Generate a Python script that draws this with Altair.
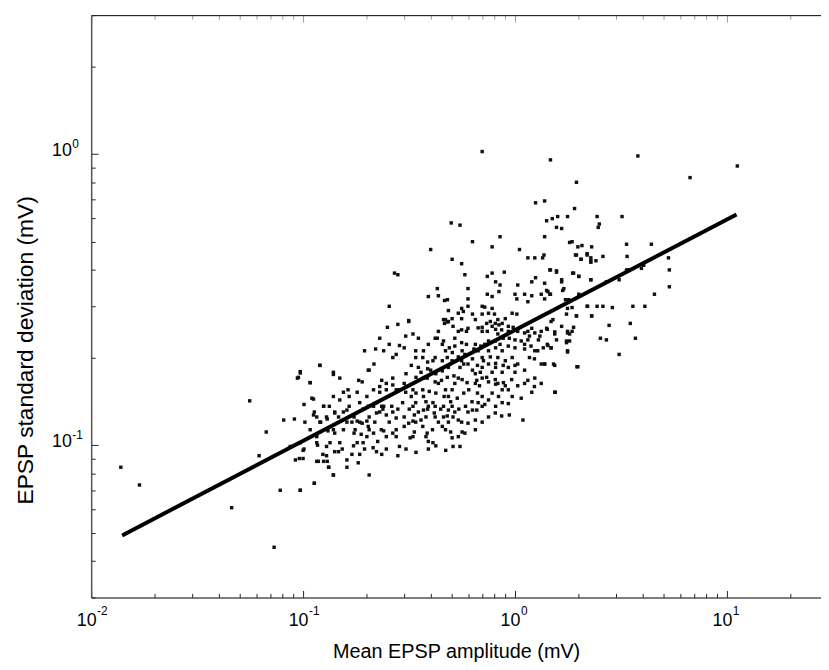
import altair as alt
import pandas as pd

# Mean EPSP amplitude (mV) and EPSP standard deviation (mV)
amp = [
    0.0138, 0.0169, 0.046, 0.056, 0.067, 0.062, 0.073, 0.078, 0.081, 0.091, 0.087, 0.092, 0.097, 0.095,
    0.097, 0.10, 0.10, 0.108, 0.112, 0.112, 0.113, 0.117, 0.118, 0.120, 0.121, 0.124, 0.125, 0.130,
    0.130, 0.132, 0.131, 0.139, 0.139, 0.141, 0.141, 0.141,
    0.505, 0.56, 1.15, 1.24, 1.35, 1.37, 1.93, 2.05, 2.19, 2.28, 0.28, 0.58, 0.74, 0.78, 0.89, 0.81,
    0.85, 1.03, 1.20, 1.25, 1.46, 1.57, 1.89, 2.0, 2.28, 0.43, 0.39, 0.435, 0.465, 0.48, 0.60, 0.60,
    0.60, 0.56, 0.57, 0.54, 0.485, 0.74, 0.78, 0.70, 0.72, 0.78, 0.75, 0.70, 0.65, 0.84, 1.0, 1.02,
    1.11, 1.15, 1.20, 1.33, 1.41, 1.47, 1.66, 1.70, 1.79, 2.0, 2.19, 2.30, 1.95, 1.75, 0.255, 0.28,
    0.25, 0.315, 0.47, 0.485, 0.505, 0.465, 0.56, 0.63, 0.80, 0.83, 0.87, 0.90, 0.97, 1.02, 0.93, 0.81,
    0.78, 0.74, 0.70, 0.83, 0.88, 0.94, 1.0, 1.07, 1.15, 1.20, 1.24, 1.31, 1.33, 1.42, 1.48, 1.66,
    1.54, 1.77, 1.81, 1.75, 1.48, 1.42, 1.29, 1.15, 1.11, 1.24, 1.33, 1.38, 1.54, 1.77, 1.96, 1.54,
    1.20, 1.07, 1.09, 0.94, 1.03, 0.93, 0.87, 0.90, 0.83, 0.81, 0.75, 0.70, 0.66, 0.65, 0.68, 0.75,
    0.72, 0.67, 0.66, 0.63, 0.60, 0.60, 0.56, 0.54, 0.51, 0.52, 0.505, 0.485, 0.46, 0.42, 0.41, 0.39,
    0.38, 0.37, 0.34, 0.33, 0.35, 0.37, 0.38, 0.36, 0.34, 0.33, 0.315, 0.30, 0.275, 0.265, 0.247, 0.24,
    0.235, 0.23, 0.222, 0.215, 0.205, 0.20, 0.19, 0.185, 0.18, 0.174, 0.17, 0.161, 0.155, 0.147, 0.141,
    0.133, 0.125, 0.12, 0.113, 0.11, 0.101, 0.102, 0.097, 0.101, 0.096, 0.116, 0.125, 0.132, 0.139,
    0.147, 0.161, 0.17, 0.185, 0.195, 0.20, 0.205, 0.215, 0.225, 0.222, 0.235, 0.24, 0.255, 0.265,
    0.275, 0.285, 0.28, 0.32, 0.33, 0.38, 0.385, 0.39, 0.41, 0.39, 0.505, 0.51, 0.55, 0.205, 0.097,
    0.113, 0.108, 0.097, 0.094, 0.12, 0.139, 0.149, 0.155, 0.163, 0.165, 0.183, 0.19, 0.195, 0.205,
    0.216, 0.203, 0.22, 0.23, 0.24, 0.255, 0.265, 0.275, 0.285, 0.30, 0.305, 0.315,
    0.34, 0.35, 0.37, 0.385, 0.40, 0.41, 0.42, 0.435, 0.45, 0.47, 0.485, 0.505, 0.52, 0.54, 0.55, 0.56,
    0.58, 0.60, 0.63, 0.505, 0.485, 0.47, 0.46, 0.435, 0.42, 0.39, 0.37, 0.35, 0.33, 0.52, 0.54, 0.56,
    0.60, 0.65, 0.67, 0.70, 0.72, 0.75, 0.81, 0.83, 0.87, 0.90, 0.93, 0.97, 0.81, 0.75, 0.70, 0.78,
    0.87, 1.0, 1.03, 1.11, 1.15, 1.24, 1.33, 0.97, 0.87, 0.81, 0.75, 0.70, 0.65, 0.58, 0.54, 0.47,
    0.435, 0.42, 0.46, 0.485, 0.33, 0.305, 0.30, 0.275, 0.265, 0.247, 0.235, 0.23, 0.215, 0.20, 0.185,
    0.18, 0.165, 0.149, 0.139, 0.129, 0.116, 0.108, 0.139, 0.155, 0.174, 0.18, 0.149, 0.129, 0.116,
    1.47, 3.8, 11.2, 6.7, 1.95, 1.91, 1.38, 1.41, 1.59, 1.77, 2.44, 2.5, 2.47, 3.2, 1.57, 1.66, 1.38,
    1.81, 1.86, 1.98, 2.07, 2.30, 2.19, 2.28, 2.28, 2.41, 2.6, 1.95, 2.05, 3.36, 4.4, 3.38, 5.3, 5.35,
    5.35, 4.55, 4.05, 3.95, 3.36, 3.45, 1.47, 1.57, 1.87, 2.0, 2.28, 3.1, 2.7, 1.66, 1.38, 1.43, 1.46,
    1.68, 1.73, 1.38, 2.2, 2.44, 2.6, 2.88, 3.6, 4.1, 1.77, 1.86, 1.95, 2.3, 1.51, 1.41, 1.54, 1.77,
    1.81, 1.86, 1.89, 2.78, 3.5, 1.57, 1.75, 1.43, 1.48, 1.77, 2.53, 2.7, 3.7, 3.1, 1.38, 1.52, 1.98,
    1.55,
    0.70, 0.50, 0.55, 0.40, 0.63, 0.85, 0.78, 1.05, 1.25, 1.5, 0.27,
    # dense core, second pass
    0.46, 0.48, 0.51, 0.56, 0.59, 0.67, 0.70, 0.735, 0.765, 0.807, 0.84, 0.865, 0.93, 0.98, 1.03, 1.11, 1.17,
    0.43, 0.454, 0.49, 0.52, 0.563, 0.59, 0.64, 0.69, 0.75, 0.807, 0.85, 0.93, 1.0, 1.11, 1.19, 1.28, 1.36,
    0.34, 0.367, 0.387, 0.42, 0.454, 0.479, 0.506, 0.54, 0.573, 0.63, 0.665, 0.71, 0.765, 0.81, 0.88, 1.0,
    1.17, 1.235,
    0.306, 0.324, 0.341, 0.36, 0.387, 0.423, 0.454, 0.479, 0.515, 0.563, 0.594, 0.65, 0.686, 0.735, 0.807,
    0.882, 0.964, 1.11, 1.235,
    0.23, 0.247, 0.265, 0.285, 0.306, 0.324, 0.341, 0.367, 0.394, 0.423, 0.463, 0.497, 0.534, 0.573, 0.605,
    0.665, 0.70, 0.78, 0.836, 0.93,
    0.192, 0.203, 0.222, 0.238, 0.262, 0.28, 0.295, 0.317, 0.335, 0.387, 0.416, 0.446, 0.479, 0.543, 0.584,
    0.627, 0.70, 0.807, 0.865,
    0.161, 0.176, 0.188, 0.203, 0.218, 0.234, 0.247, 0.275, 0.30, 0.335, 0.367, 0.408, 0.454, 0.497, 0.563,
    0.65,
    0.116, 0.134, 0.153, 0.173, 0.192, 0.214, 0.247, 0.306, 0.341, 0.423, 0.471, 0.161, 0.182, 0.129,
]
sd = [
    0.084, 0.073, 0.061, 0.142, 0.111, 0.092, 0.0446, 0.070, 0.122, 0.123, 0.099, 0.089, 0.070, 0.171,
    0.179, 0.096, 0.090, 0.164, 0.144, 0.127, 0.074, 0.10, 0.088, 0.188, 0.12, 0.093, 0.136, 0.123,
    0.088, 0.084, 0.112, 0.079, 0.175, 0.129, 0.11, 0.095,
    0.435, 0.42, 0.44, 0.44, 0.44, 0.45, 0.45, 0.435, 0.45, 0.43, 0.385, 0.385, 0.38, 0.39, 0.393, 0.364,
    0.355, 0.355, 0.364, 0.376, 0.40, 0.397, 0.39, 0.38, 0.37, 0.345, 0.324, 0.326, 0.314, 0.316, 0.345, 0.318,
    0.30, 0.295, 0.288, 0.284, 0.29, 0.33, 0.324, 0.30, 0.298, 0.295, 0.284, 0.282, 0.27, 0.337, 0.33, 0.318,
    0.33, 0.311, 0.326, 0.33, 0.34, 0.33, 0.37, 0.345, 0.316, 0.33, 0.30, 0.278, 0.278, 0.282, 0.30, 0.26,
    0.254, 0.268, 0.27, 0.266, 0.272, 0.262, 0.272, 0.282, 0.282, 0.27, 0.262, 0.272, 0.284, 0.282, 0.256, 0.25,
    0.256, 0.246, 0.246, 0.241, 0.233, 0.233, 0.23, 0.228, 0.246, 0.252, 0.243, 0.237, 0.246, 0.25, 0.266, 0.256,
    0.241, 0.243, 0.228, 0.225, 0.216, 0.222, 0.23, 0.23, 0.214, 0.211, 0.19, 0.19, 0.188, 0.211, 0.186, 0.152,
    0.152, 0.145, 0.122, 0.127, 0.16, 0.155, 0.155, 0.16, 0.163, 0.162, 0.165, 0.17, 0.167, 0.163, 0.16, 0.143,
    0.138, 0.14, 0.132, 0.132, 0.13, 0.119, 0.12, 0.122, 0.125, 0.13, 0.136, 0.132, 0.136, 0.136, 0.14, 0.136,
    0.141, 0.147, 0.14, 0.136, 0.13, 0.132, 0.125, 0.122, 0.12, 0.121, 0.119, 0.125, 0.124, 0.13, 0.127, 0.136,
    0.136, 0.13, 0.14, 0.136, 0.125, 0.121, 0.119, 0.12, 0.121, 0.125, 0.12, 0.132, 0.13, 0.125, 0.13,
    0.136, 0.136, 0.12, 0.13, 0.145, 0.138, 0.12, 0.102, 0.097, 0.09, 0.088, 0.088, 0.084, 0.079,
    0.095, 0.084, 0.093, 0.093, 0.097, 0.107, 0.113, 0.11, 0.103, 0.095, 0.093, 0.112, 0.12, 0.11,
    0.107, 0.099, 0.092, 0.106, 0.107, 0.107, 0.11, 0.103, 0.102, 0.097, 0.106, 0.099, 0.099, 0.079, 0.07,
    0.074, 0.164, 0.177, 0.17, 0.188, 0.178, 0.17, 0.152, 0.155, 0.147, 0.167, 0.165, 0.211, 0.181,
    0.19, 0.181, 0.214, 0.233, 0.211, 0.222, 0.20, 0.205, 0.22, 0.216, 0.237, 0.266,
    0.20, 0.185, 0.17, 0.17, 0.181, 0.195, 0.165, 0.163, 0.167, 0.155, 0.147, 0.155, 0.163, 0.17, 0.185, 0.195,
    0.205, 0.19, 0.181, 0.195, 0.185, 0.211, 0.228, 0.246, 0.233, 0.222, 0.211, 0.233, 0.241, 0.233, 0.246, 0.225,
    0.252, 0.222, 0.211, 0.20, 0.222, 0.211, 0.216, 0.20, 0.211, 0.195, 0.185, 0.20, 0.185, 0.19, 0.185, 0.178,
    0.178, 0.178, 0.19, 0.181, 0.167, 0.17, 0.163, 0.147, 0.14, 0.136, 0.125, 0.12, 0.113, 0.11, 0.107, 0.113,
    0.12, 0.125, 0.125, 0.12, 0.155, 0.152, 0.163, 0.155, 0.17, 0.155, 0.167, 0.152, 0.155, 0.147, 0.14,
    0.152, 0.136, 0.143, 0.147, 0.125, 0.125, 0.113, 0.113, 0.113, 0.11, 0.102, 0.102, 0.099, 0.102,
    0.955, 0.985, 0.91, 0.83, 0.80, 0.65, 0.69, 0.59, 0.61, 0.61, 0.61, 0.575, 0.56, 0.61, 0.56, 0.555, 0.52,
    0.497, 0.50, 0.48, 0.485, 0.48, 0.455, 0.44, 0.425, 0.43, 0.445, 0.45, 0.435, 0.49, 0.49, 0.445, 0.44, 0.40,
    0.35, 0.33, 0.415, 0.405, 0.40, 0.40, 0.40, 0.393, 0.39, 0.38, 0.37, 0.37, 0.364, 0.364, 0.36, 0.337, 0.33,
    0.34, 0.316, 0.318, 0.30, 0.30, 0.30, 0.297, 0.30, 0.30, 0.295, 0.297, 0.278, 0.278, 0.27, 0.252, 0.245, 0.246,
    0.241, 0.246, 0.254, 0.258, 0.262, 0.23, 0.228, 0.22, 0.216, 0.209, 0.233, 0.23, 0.233, 0.205, 0.19, 0.19, 0.186,
    0.152,
    1.02, 0.58, 0.57, 0.47, 0.50, 0.52, 0.48, 0.47, 0.68, 0.60, 0.39,
    # dense core, second pass
    0.27, 0.265, 0.256, 0.249, 0.246, 0.253, 0.254, 0.262, 0.266, 0.262, 0.259, 0.249, 0.246, 0.254, 0.246, 0.243, 0.237,
    0.233, 0.222, 0.216, 0.219, 0.211, 0.222, 0.214, 0.219, 0.228, 0.228, 0.222, 0.219, 0.216, 0.222, 0.219, 0.211, 0.216,
    0.211, 0.20, 0.193, 0.20, 0.195, 0.20, 0.208, 0.201, 0.19, 0.198, 0.188, 0.195, 0.201, 0.191, 0.188, 0.188,
    0.20, 0.198,
    0.176, 0.188, 0.171, 0.178, 0.183, 0.176, 0.18, 0.171, 0.173, 0.168, 0.164, 0.176, 0.178, 0.171, 0.168,
    0.164, 0.168, 0.163, 0.159,
    0.159, 0.163, 0.161, 0.155, 0.159, 0.147, 0.151, 0.155, 0.153, 0.151, 0.147, 0.141, 0.145, 0.151, 0.155,
    0.151, 0.147, 0.151, 0.147, 0.139,
    0.133, 0.136, 0.129, 0.133, 0.136, 0.133, 0.14, 0.133, 0.127, 0.133, 0.129, 0.133, 0.126, 0.133, 0.136,
    0.141, 0.136, 0.129, 0.126,
    0.12, 0.113, 0.109, 0.116, 0.12, 0.113, 0.107, 0.113, 0.116, 0.111, 0.116, 0.113, 0.116, 0.111, 0.111,
    0.122,
    0.107, 0.102, 0.097, 0.0995, 0.102, 0.098, 0.097, 0.097, 0.0945, 0.0995, 0.096, 0.089, 0.087, 0.092,
]

# Fitted power-law line end points
fit_amp = [0.014, 11.1]
fit_sd = [0.049, 0.62]

x_ticks = [0.01, 0.02, 0.03, 0.04, 0.05, 0.06, 0.07, 0.08, 0.09,
           0.1, 0.2, 0.3, 0.4, 0.5, 0.6, 0.7, 0.8, 0.9,
           1, 2, 3, 4, 5, 6, 7, 8, 9, 10, 20]
y_ticks = [0.03, 0.04, 0.05, 0.06, 0.07, 0.08, 0.09,
           0.1, 0.2, 0.3, 0.4, 0.5, 0.6, 0.7, 0.8, 0.9, 1, 2, 3]
x_labels = [0.01, 0.1, 1, 10]
x_exps = ["-2", "-1", "0", "1"]
y_labels = [0.1, 1]
y_exps = ["-1", "0"]

n = min(len(amp), len(sd))
pts = pd.DataFrame({"amp": amp[:n], "sd": sd[:n]})
fit = pd.DataFrame({"amp": fit_amp, "sd": fit_sd})
xsup_df = pd.DataFrame({"v": x_labels, "e": x_exps, "b": [0.03] * len(x_labels)})
ysup_df = pd.DataFrame({"v": y_labels, "e": y_exps, "a": [0.01] * len(y_labels)})

W, H = 737, 588
FONT = "Liberation Sans"
LBL = 18
SUP = 12
DEC_EXPR = ("datum.value == 0.01 || datum.value == 0.1 || "
            "datum.value == 1 || datum.value == 10")
tick_len = {"condition": {"test": DEC_EXPR, "value": 7}, "value": 4}

xs = alt.Scale(type="log", domain=[0.01, 27.8], nice=False)
ys = alt.Scale(type="log", domain=[0.03, 3], nice=False)

label_x_axis = alt.Axis(
    values=x_labels, labelExpr="'10'", ticks=False, grid=False,
    domain=True, domainColor="#555555", domainWidth=1.5,
    labelFont=FONT, labelFontSize=LBL, labelColor="black", labelPadding=14,
    labelBaseline="top", labelAlign="right", labelOffset=5, labelFlush=False,
    labelOverlap=False,
    title="Mean EPSP amplitude (mV)", titleFont=FONT, titleFontSize=20,
    titleFontWeight="normal", titleColor="black", titleY=55, titleBaseline="middle",
)
label_y_axis = alt.Axis(
    values=y_labels, labelExpr="'10'", ticks=False, grid=False,
    domain=True, domainColor="#555555", domainWidth=1.5,
    labelFont=FONT, labelFontSize=LBL, labelColor="black", labelPadding=20,
    labelBaseline="alphabetic", labelAlign="right", labelOffset=1,
    labelOverlap=False,
    title="EPSP standard deviation (mV)", titleFont=FONT, titleFontSize=23,
    titleFontWeight="normal", titleColor="black", titleX=-66, titleY=338,
    titleBaseline="middle",
)

points = alt.Chart(pts).mark_square(size=12, color="#111111", opacity=1).encode(
    x=alt.X("amp:Q", scale=xs, axis=label_x_axis),
    y=alt.Y("sd:Q", scale=ys, axis=label_y_axis),
)

# inward ticks on the bottom and left edges
line = alt.Chart(fit).mark_line(color="black", strokeWidth=4, strokeCap="butt").encode(
    x=alt.X("amp:Q", scale=xs, axis=alt.Axis(
        orient="top", offset=-H, values=x_ticks, labels=False, domain=False, grid=False,
        tickColor="#222222", tickWidth=1, tickSize=tick_len, title=None)),
    y=alt.Y("sd:Q", scale=ys, axis=alt.Axis(
        orient="right", offset=-W, values=y_ticks, labels=False, domain=False, grid=False,
        tickColor="#222222", tickWidth=1, tickSize=tick_len, title=None)),
)

# top border with inward ticks
top = alt.Chart(fit).mark_line(opacity=0).encode(
    x=alt.X("amp:Q", scale=xs, axis=alt.Axis(
        orient="bottom", offset=-H, values=x_ticks, labels=False, domain=True,
        domainColor="black", domainWidth=1, grid=False,
        tickColor="#999999", tickWidth=1, tickSize=tick_len, title=None)),
    y=alt.Y("sd:Q", scale=ys, axis=None),
)

# exponents of the decade labels
xsup = alt.Chart(xsup_df).mark_text(
    align="left", baseline="alphabetic", dx=6, dy=18, font=FONT, fontSize=SUP, color="black"
).encode(
    x=alt.X("v:Q", scale=xs, axis=None),
    y=alt.Y("b:Q", scale=ys, axis=None),
    text="e:N",
)
ysup = alt.Chart(ysup_df).mark_text(
    align="left", baseline="alphabetic", dx=-19, dy=-6, font=FONT, fontSize=SUP, color="black"
).encode(
    x=alt.X("a:Q", scale=xs, axis=None),
    y=alt.Y("v:Q", scale=ys, axis=None),
    text="e:N",
)

chart = (
    alt.layer(points, line, top, xsup, ysup)
    .resolve_axis(x="independent", y="independent")
    .properties(
        width=W, height=H,
        autosize=alt.AutoSizeParams(type="none"),
        padding={"left": 84, "top": 4, "right": 0, "bottom": 62},
        background="white",
    )
    .configure_view(stroke=None)
)

chart.save("out.html", embed_options={"renderer": "svg", "actions": False})
